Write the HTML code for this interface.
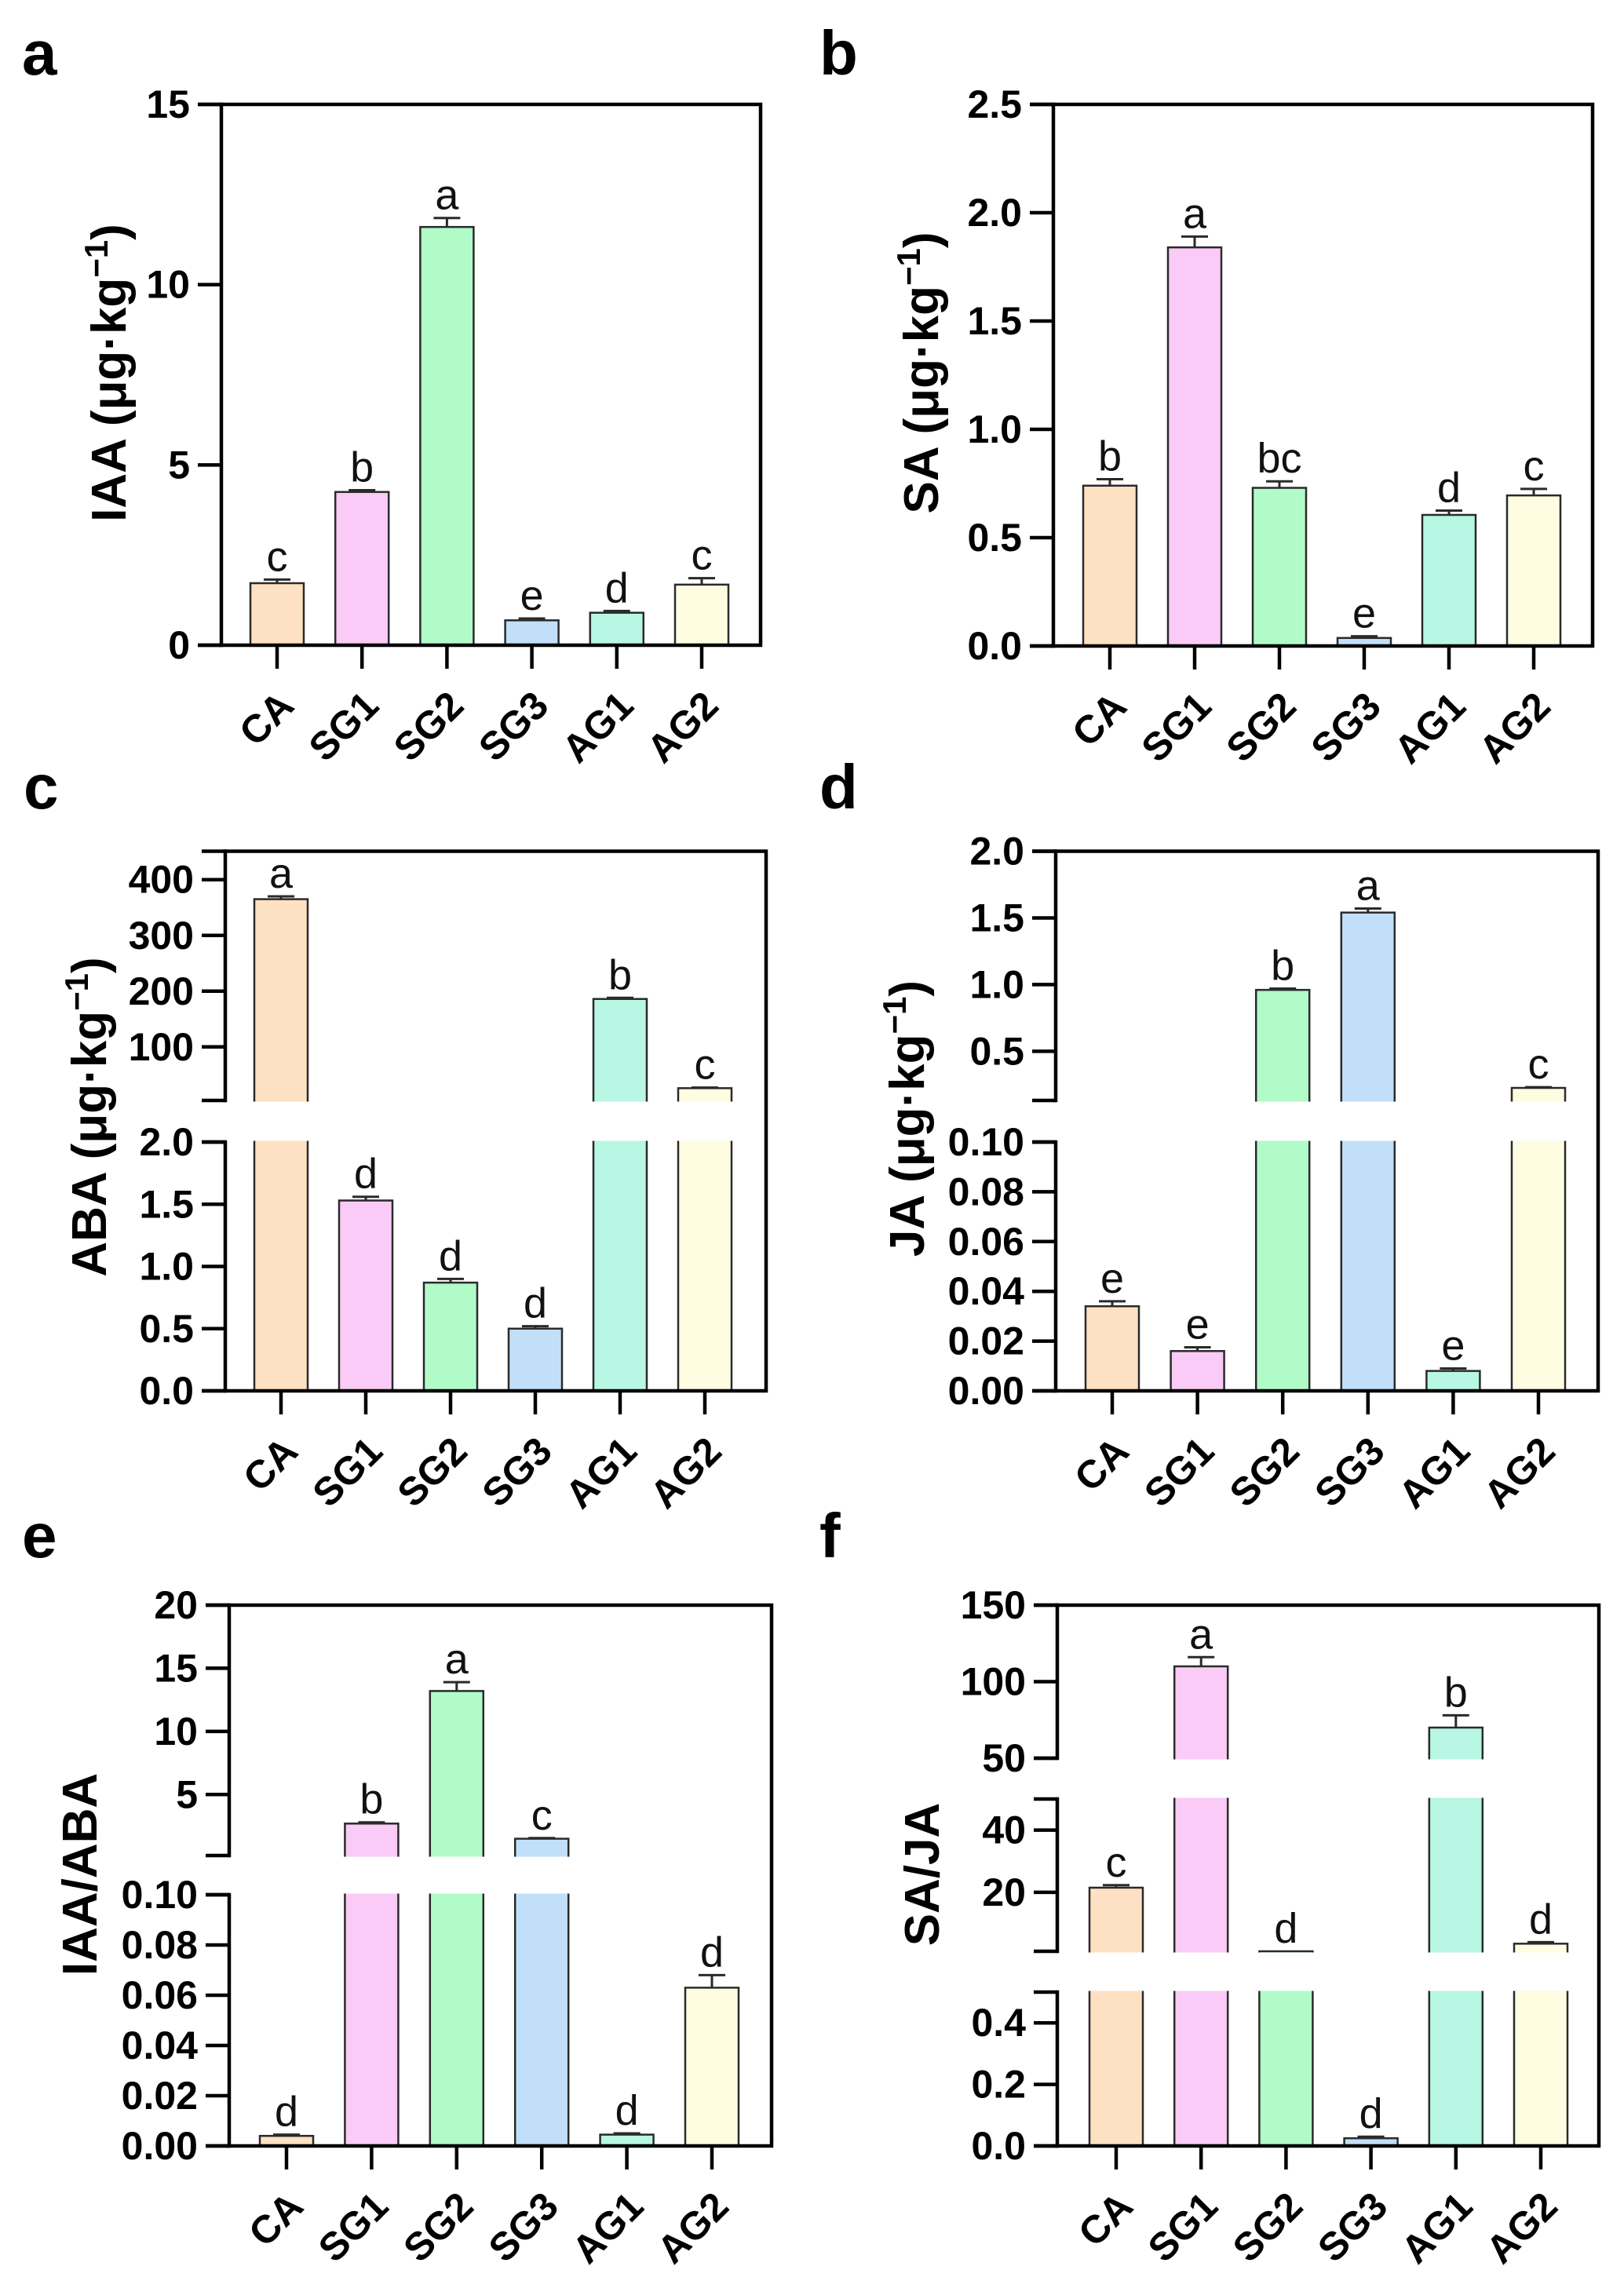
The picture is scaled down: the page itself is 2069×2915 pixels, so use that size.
<!DOCTYPE html>
<html><head><meta charset="utf-8"><style>
html,body{margin:0;padding:0;background:#fff;}
svg{display:block;}
text{font-family:"Liberation Sans",Arial,sans-serif;}
</style></head><body>
<svg id="fig" width="2069" height="2915" viewBox="0 0 2069 2915" xmlns="http://www.w3.org/2000/svg"></svg>
<script>
const categories = ["CA","SG1","SG2","SG3","AG1","AG2"];
const barColors = ["#fde1c2","#f9cbf6","#b1fbc9","#c1dff8","#b7f7e4","#fefde1"];

const iaaValues = [1.72, 4.25, 11.6, 0.69, 0.9, 1.68];
const iaaErrors = [1.82, 4.3, 11.85, 0.74, 0.95, 1.86];
const iaaLetters = ["c","b","a","e","d","c"];
const iaaTicks = [0, 5, 10, 15];

const saValues = [0.74, 1.84, 0.73, 0.037, 0.605, 0.695];
const saErrors = [0.77, 1.89, 0.76, 0.045, 0.625, 0.725];
const saLetters = ["b","a","bc","e","d","c"];
const saTicks = [0, 0.5, 1.0, 1.5, 2.0, 2.5];

const abaValues = [365, 1.53, 0.87, 0.5, 186, 26];
const abaErrors = [370, 1.56, 0.9, 0.52, 188, 27];
const abaLetters = ["a","d","d","d","b","c"];
const abaTicksLow = [0, 0.5, 1.0, 1.5, 2.0];
const abaTicksHigh = [100, 200, 300, 400];

const jaValues = [0.034, 0.016, 0.96, 1.54, 0.008, 0.225];
const jaErrors = [0.036, 0.0175, 0.97, 1.57, 0.009, 0.23];
const jaLetters = ["e","e","b","a","e","c"];
const jaTicksLow = [0, 0.02, 0.04, 0.06, 0.08, 0.10];
const jaTicksHigh = [0.5, 1.0, 1.5, 2.0];

const iaaAbaValues = [0.004, 2.7, 13.2, 1.5, 0.0045, 0.063];
const iaaAbaErrors = [0.0045, 2.8, 13.9, 1.55, 0.005, 0.068];
const iaaAbaLetters = ["d","b","a","c","d","d"];
const iaaAbaTicksLow = [0, 0.02, 0.04, 0.06, 0.08, 0.10];
const iaaAbaTicksHigh = [5, 10, 15, 20];

const saJaValues = [21.5, 110, 1.06, 0.025, 70, 3.5];
const saJaErrors = [22.3, 116, 1.06, 0.03, 78, 4.0];
const saJaLetters = ["c","a","d","d","b","d"];
const saJaTicksLow = [0, 0.2, 0.4];
const saJaTicksMid = [20, 40];
const saJaTicksHigh = [50, 100, 150];

const NS = "http://www.w3.org/2000/svg";
const svg = document.getElementById("fig");
function mk(tag, attrs, parent){
  const e = document.createElementNS(NS, tag);
  for (const k in attrs) e.setAttribute(k, attrs[k]);
  (parent||svg).appendChild(e);
  return e;
}
function fmt(v, dec){ return v.toFixed(dec); }

function drawPanel(p){
  const g = mk("g", {});
  
  
  function y(v){
    const segs = p.segs;
    let s = segs[0];
    for (let i=segs.length-1;i>=0;i--){
      if (v >= segs[i].v0){ s = segs[i]; break; }
    }
    const vv = Math.max(v, s.v0);
    return s.b - (vv - s.v0)/(s.v1 - s.v0)*(s.b - s.t);
  }
  const bottom = p.segs[0].b, top = p.segs[p.segs.length-1].t;
  p.values.forEach((v,i)=>{
    const cx = p.x0 + i*p.step;
    const yv = y(v);
    const r = mk("rect", {x: cx-34, y: yv, width: 68, height: Math.max(bottom-yv,0.5), fill: barColors[i], stroke:"#2a2a2a", "stroke-width":2.5}, g);
    
    
    const ye = y(p.errors[i]);
    if (yv-ye > 0.5){
      const el = mk("path", {d:`M${cx} ${yv} V${ye} M${cx-17} ${ye} H${cx+17}`, stroke:"#2a2a2a","stroke-width":3, fill:"none"}, g);
      
      
    }
    const t = mk("text", {x: cx, y: Math.min(ye, yv) - 11, "font-size":54, "text-anchor":"middle", fill:"#111"}, g);
    t.textContent = p.letters[i];
    
    
  });
  for (let i=0;i<p.segs.length-1;i++){
    const gb = p.segs[i].t, gt = p.segs[i+1].b;
    const gr = mk("rect", {x: p.left+3, y: gt+1.5, width: p.right-p.left-6, height: gb-gt-3, fill:"#fff"}, g);
    
    
  }
  mk("path", {d:`M${p.left} ${top} H${p.right} V${bottom} H${p.left}`, stroke:"#000","stroke-width":4.5, fill:"none","stroke-linecap":"square"}, g);
  p.segs.forEach(s=>{
    mk("path", {d:`M${p.left} ${s.b} V${s.t}`, stroke:"#000","stroke-width":4.5, fill:"none","stroke-linecap":"square"}, g);
    mk("path", {d:`M${p.left-30} ${s.b} H${p.left} M${p.left-30} ${s.t} H${p.left}`, stroke:"#000","stroke-width":4.5}, g);
  });
  p.ticks.forEach(tk=>{
    const ty = y(tk);
    mk("path", {d:`M${p.left-30} ${ty} H${p.left}`, stroke:"#000","stroke-width":4.5}, g);
    const t = mk("text", {x: p.left-40, y: ty+17, "font-size":50, "font-weight":"bold", "text-anchor":"end", fill:"#000"}, g);
    t.textContent = fmt(tk, p.dec(tk));
    
    
  });
  categories.forEach((c,i)=>{
    const cx = p.x0 + i*p.step;
    mk("path", {d:`M${cx} ${bottom} V${bottom+30}`, stroke:"#000","stroke-width":4.5}, g);
    const t = mk("text", {x:0, y:0, "font-size":50, "font-weight":"bold", "text-anchor":"end", fill:"#000", transform:`translate(${cx+24},${bottom+80}) rotate(-45)`}, g);
    t.textContent = c;
    
    
  });
  const tt = mk("text", {x:0, y:0, "font-size":62, "font-weight":"bold", "text-anchor":"middle", fill:"#000", transform:`translate(${p.titleX+2},${p.titleY}) rotate(-90)`}, g);
  if (p.unit){
    tt.appendChild(document.createTextNode(p.title + " (μg·kg"));
    const sup = mk("tspan", {"font-size":42, "baseline-shift":"super"}, tt);
    sup.textContent = "−1";
    const cl = mk("tspan", {}, tt);
    cl.textContent = ")";
  } else {
    tt.textContent = p.title;
  }
  
  
  const pl = mk("text", {x:p.letterX, y:p.letterY, "font-size":80, "font-weight":"bold", fill:"#000"}, g);
  pl.textContent = p.id;
  
  
}

drawPanel({id:"a", left:282, right:969, x0:353, step:108.2,
  segs:[{b:822,t:133,v0:0,v1:15}], values:iaaValues, errors:iaaErrors, letters:iaaLetters,
  ticks:iaaTicks, dec:()=>0, title:"IAA", unit:true, titleX:158, titleY:475, letterX:28, letterY:95});
drawPanel({id:"b", left:1342, right:2029, x0:1414, step:108,
  segs:[{b:823,t:133,v0:0,v1:2.5}], values:saValues, errors:saErrors, letters:saLetters,
  ticks:saTicks, dec:()=>1, title:"SA", unit:true, titleX:1193, titleY:475, letterX:1044, letterY:95});
drawPanel({id:"c", left:287, right:976, x0:358, step:108,
  segs:[{b:1772,t:1455,v0:0,v1:2},{b:1402,t:1084.5,v0:4,v1:451}], values:abaValues, errors:abaErrors, letters:abaLetters,
  ticks:abaTicksLow.concat(abaTicksHigh), dec:v=>v>=10?0:1, title:"ABA", unit:true, titleX:133, titleY:1423, letterX:30, letterY:1030});
drawPanel({id:"d", left:1345, right:2036, x0:1417, step:108.6,
  segs:[{b:1772,t:1455,v0:0,v1:0.1},{b:1402,t:1084.5,v0:0.131,v1:2.0}], values:jaValues, errors:jaErrors, letters:jaLetters,
  ticks:jaTicksLow.concat(jaTicksHigh), dec:v=>v>0.15?1:2, title:"JA", unit:true, titleX:1175, titleY:1425, letterX:1044, letterY:1030});
drawPanel({id:"e", left:292, right:983, x0:365, step:108.4,
  segs:[{b:2734,t:2414,v0:0,v1:0.1},{b:2364,t:2045,v0:0.17,v1:20}], values:iaaAbaValues, errors:iaaAbaErrors, letters:iaaAbaLetters,
  ticks:iaaAbaTicksLow.concat(iaaAbaTicksHigh), dec:v=>v>=1?0:2, title:"IAA/ABA", unit:false, titleX:121, titleY:2388, letterX:28, letterY:1984});
drawPanel({id:"f", left:1347, right:2037, x0:1422, step:108.2,
  segs:[{b:2734,t:2538,v0:0,v1:0.5},{b:2486,t:2292,v0:1.06,v1:50},{b:2240,t:2045,v0:50,v1:150}], values:saJaValues, errors:saJaErrors, letters:saJaLetters,
  ticks:saJaTicksLow.concat(saJaTicksMid, saJaTicksHigh), dec:v=>v>=1?0:1, title:"SA/JA", unit:false, titleX:1194, titleY:2388, letterX:1044, letterY:1984});
</script>
</body></html>
